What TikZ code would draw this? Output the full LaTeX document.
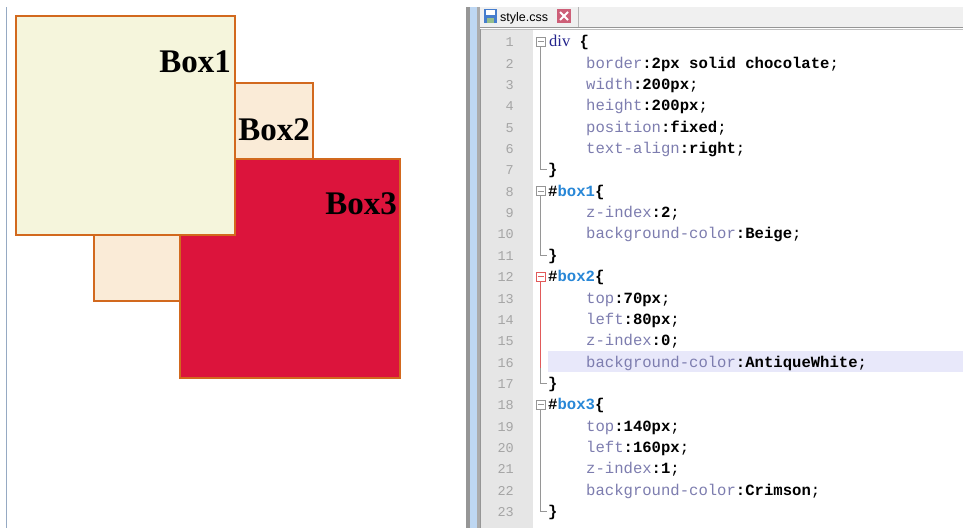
\documentclass[tikz,border=0pt]{standalone}
\usepackage{fontspec}
\setmainfont{Liberation Serif}
\newfontfamily\monof{Liberation Mono}
\newfontfamily\sansf{Liberation Sans}
\definecolor{choco}{RGB}{210,105,30}
\definecolor{beige}{RGB}{245,245,220}
\definecolor{antique}{RGB}{250,235,215}
\definecolor{crimson}{RGB}{220,20,60}
\definecolor{propc}{RGB}{125,125,175}
\definecolor{bluec}{RGB}{40,135,215}
\definecolor{divc}{RGB}{35,35,140}
\definecolor{numc}{RGB}{165,165,165}
\definecolor{gutter}{RGB}{230,230,230}
\definecolor{tabbar}{RGB}{240,240,240}
\definecolor{hl}{RGB}{232,232,250}
\definecolor{frameblue}{RGB}{190,215,242}
\definecolor{framegray}{RGB}{150,150,150}
\definecolor{foldgray}{RGB}{150,150,150}
\definecolor{foldred}{RGB}{225,90,90}
\definecolor{leftline}{RGB}{150,170,195}
\definecolor{floppyblue}{RGB}{70,125,205}
\definecolor{floppygreen}{RGB}{150,190,140}
\definecolor{closered}{RGB}{205,95,120}
\newcommand\pp[1]{\textcolor{propc}{#1}}
\newcommand\vv[1]{\textbf{#1}}
\begin{document}
\begin{tikzpicture}[x=1pt,y=-1pt,
  boxedge/.style={draw=choco, line width=1.6pt},
  boxlabel/.style={anchor=base east, inner sep=0pt, font=\bfseries\fontsize{33}{33}\selectfont},
  code/.style={anchor=base west, inner sep=0pt, font=\monof\fontsize{15.6}{15.6}\selectfont},
  num/.style={anchor=base east, inner sep=0pt, text=numc, font=\monof\fontsize{13.5}{13.5}\selectfont},
  foldbox/.style={draw=#1, fill=white, line width=0.8pt, minimum size=9pt, inner sep=0pt},
  foldline/.style={draw=#1, line width=0.8pt}]
\useasboundingbox (0,0) rectangle (963,528);
\fill[white] (0,0) rectangle (963,528);
% left pane line
\draw[leftline, line width=1pt] (6.5,7) -- (6.5,528);
% boxes: box2 lowest, then box3, then box1
\draw[boxedge, fill=antique] (94,83) rectangle (313,301);
\node[boxlabel] (lab2) at (310,140) {Box2};
\draw[boxedge, fill=crimson] (180,159) rectangle (400,378);
\node[boxlabel] (lab3) at (397,214) {Box3};
\draw[boxedge, fill=beige] (16,16) rectangle (235,235);
\node[boxlabel] (lab1) at (231,72) {Box1};
% window frame
\fill[framegray] (466,7) rectangle (470,528);
\fill[frameblue] (470,7) rectangle (477,528);
\fill[framegray!80] (477,7) rectangle (480,528);
% tab bar
\fill[tabbar] (480,7) rectangle (963,27);
\draw[framegray!70, line width=0.8pt] (578,7) -- (578,27);
\draw[framegray, line width=1pt] (480,27.5) -- (963,27.5);
\draw[framegray!60, line width=0.8pt] (480,29) -- (963,29);
% floppy icon
\fill[floppyblue] (484,9) rectangle (497,23);
\fill[white] (486,10) rectangle (495,15);
\fill[floppygreen] (487,18) rectangle (494,23);
\node[anchor=base west, inner sep=0pt, font=\sansf\fontsize{12.5}{12.5}\selectfont] (tab) at (500,21.5) {style.css};
% close button
\fill[closered] (557,9) rectangle (571,23);
\draw[white, line width=1.8pt] (560,12) -- (568,20) (568,12) -- (560,20);
% editor
\fill[white] (480,30) rectangle (963,528);
\fill[gutter] (481,30) rectangle (533,528);
\draw[framegray, line width=0.8pt] (480.5,29) -- (480.5,528);
% highlight line 16
\fill[hl] (548,351) rectangle (963,372);
% line numbers
\foreach \n in {1,...,23}
  \node[num] (n\n) at (514,{41.7+21.36*(\n-1)+5}) {\n};
% fold markers
\foreach \s/\e/\c in {1/7/foldgray, 8/11/foldgray, 18/23/foldgray}{
  \draw[foldline=\c] (540.5,{41.7+21.36*(\s-1)}) -- (540.5,{41.7+21.36*(\e-1)}) -- (547,{41.7+21.36*(\e-1)});
  \node[foldbox=\c] (f\s) at (540.5,{41.7+21.36*(\s-1)}) {};
  \draw[\c, line width=0.8pt] (537.5,{41.7+21.36*(\s-1)}) -- (543.5,{41.7+21.36*(\s-1)});
}
\draw[foldline=foldgray] (540.5,{41.7+21.36*15+6}) -- (540.5,{41.7+21.36*16}) -- (547,{41.7+21.36*16});
\draw[foldline=foldred] (540.5,{41.7+21.36*11}) -- (540.5,{41.7+21.36*15+6});
\node[foldbox=foldred] (f12) at (540.5,{41.7+21.36*11}) {};
\draw[foldred, line width=0.8pt] (537.5,{41.7+21.36*11}) -- (543.5,{41.7+21.36*11});
% code lines
\def\by#1{{41.7+21.36*(#1-1)+5}}
\node[code] (c1) at (549,\by{1}) {{\rmfamily\fontsize{16.5}{16.5}\selectfont\textcolor{divc}{div}} \vv{\{}};
\node[code] (c2) at (586,\by{2}) {\pp{border}\vv{:2px solid chocolate};};
\node[code] (c3) at (586,\by{3}) {\pp{width}\vv{:200px};};
\node[code] (c4) at (586,\by{4}) {\pp{height}\vv{:200px};};
\node[code] (c5) at (586,\by{5}) {\pp{position}\vv{:fixed};};
\node[code] (c6) at (586,\by{6}) {\pp{text-align}\vv{:right};};
\node[code] (c7) at (548,\by{7}) {\vv{\}}};
\node[code] (c8) at (548,\by{8}) {\vv{\#}\textcolor{bluec}{\bfseries box1}\vv{\{}};
\node[code] (c9) at (586,\by{9}) {\pp{z-index}\vv{:2};};
\node[code] (c10) at (586,\by{10}) {\pp{background-color}\vv{:Beige};};
\node[code] (c11) at (548,\by{11}) {\vv{\}}};
\node[code] (c12) at (548,\by{12}) {\vv{\#}\textcolor{bluec}{\bfseries box2}\vv{\{}};
\node[code] (c13) at (586,\by{13}) {\pp{top}\vv{:70px};};
\node[code] (c14) at (586,\by{14}) {\pp{left}\vv{:80px};};
\node[code] (c15) at (586,\by{15}) {\pp{z-index}\vv{:0};};
\node[code] (c16) at (586,\by{16}) {\pp{background-color}\vv{:AntiqueWhite};};
\node[code] (c17) at (548,\by{17}) {\vv{\}}};
\node[code] (c18) at (548,\by{18}) {\vv{\#}\textcolor{bluec}{\bfseries box3}\vv{\{}};
\node[code] (c19) at (586,\by{19}) {\pp{top}\vv{:140px};};
\node[code] (c20) at (586,\by{20}) {\pp{left}\vv{:160px};};
\node[code] (c21) at (586,\by{21}) {\pp{z-index}\vv{:1};};
\node[code] (c22) at (586,\by{22}) {\pp{background-color}\vv{:Crimson};};
\node[code] (c23) at (548,\by{23}) {\vv{\}}};
\end{tikzpicture}
\end{document}
